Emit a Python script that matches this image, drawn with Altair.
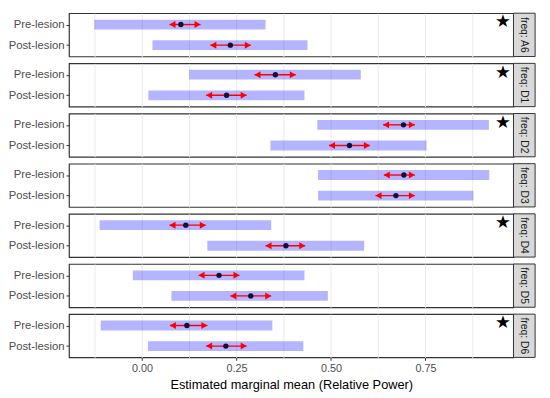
import altair as alt
import pandas as pd

freqs = ["A6", "D1", "D2", "D3", "D4", "D5", "D6"]
conds = ["Pre-lesion", "Post-lesion"]

est_pre = [0.103, 0.353, 0.692, 0.693, 0.116, 0.204, 0.119]
est_post = [0.234, 0.224, 0.549, 0.672, 0.381, 0.288, 0.222]

ci_lo_pre = [-0.126, 0.125, 0.464, 0.466, -0.112, -0.024, -0.109]
ci_hi_pre = [0.327, 0.579, 0.918, 0.919, 0.342, 0.430, 0.345]
ci_lo_post = [0.028, 0.017, 0.340, 0.466, 0.173, 0.078, 0.016]
ci_hi_post = [0.438, 0.430, 0.753, 0.877, 0.588, 0.492, 0.427]

arr_lo_pre = [0.073, 0.298, 0.638, 0.640, 0.073, 0.150, 0.074]
arr_hi_pre = [0.155, 0.407, 0.722, 0.722, 0.169, 0.258, 0.173]
arr_lo_post = [0.181, 0.170, 0.495, 0.618, 0.327, 0.234, 0.170]
arr_hi_post = [0.288, 0.277, 0.603, 0.722, 0.432, 0.342, 0.277]

starred = ["A6", "D1", "D2", "D4", "D6"]
star_x = 0.955

rows = []
for i, f in enumerate(freqs):
    rows.append(dict(freq=f, cond="Pre-lesion", est=est_pre[i], lo=ci_lo_pre[i], hi=ci_hi_pre[i],
                     alo=arr_lo_pre[i], ahi=arr_hi_pre[i], star=f in starred, sx=star_x))
    rows.append(dict(freq=f, cond="Post-lesion", est=est_post[i], lo=ci_lo_post[i], hi=ci_hi_post[i],
                     alo=arr_lo_post[i], ahi=arr_hi_post[i], star=f in starred, sx=star_x))
df = pd.DataFrame(rows)

W, H = 452, 44
FONT = "Liberation Sans"
major_test = "abs(datum.value*4 - round(datum.value*4)) < 0.001"
grid_vals = [-0.125, 0.0, 0.125, 0.25, 0.375, 0.5, 0.625, 0.75, 0.875]

xscale = alt.Scale(domain=[-0.193, 0.983], nice=False, zero=False)
yscale = alt.Scale(type="point", padding=0.55)

x_axis = alt.Axis(
    values=grid_vals,
    labelExpr=f"{major_test} ? format(datum.value, '.2f') : ''",
    tickOpacity={"condition": {"test": major_test, "value": 1}, "value": 0},
    title="Estimated marginal mean (Relative Power)",
)
y_axis = alt.Axis(title=None)

base = alt.Chart().encode(
    y=alt.Y("cond:N", sort=conds, scale=yscale, axis=y_axis)
)

bars = base.mark_bar(size=10, color="#0000FF", opacity=0.29).encode(
    x=alt.X("lo:Q", scale=xscale, axis=x_axis), x2="hi:Q"
)
arrow_line = base.mark_rule(color="#FF0000", strokeWidth=1.4).encode(
    x="alo:Q", x2="ahi:Q"
)
arrow_left = base.mark_point(shape="triangle-left", filled=True, color="#FF0000",
                             size=50, opacity=1, xOffset=3).encode(x="alo:Q")
arrow_right = base.mark_point(shape="triangle-right", filled=True, color="#FF0000",
                              size=50, opacity=1, xOffset=-3).encode(x="ahi:Q")
points = base.mark_circle(color="#10103C", size=30, opacity=1).encode(x="est:Q")

stars = base.mark_text(text="★", fontSize=18, color="black", dy=-2, font="DejaVu Sans").encode(
    x="sx:Q"
).transform_filter("datum.star && datum.cond == 'Pre-lesion'")

strip_rect = alt.Chart().mark_rect(fill="#D9D9D9", stroke="#333333", strokeWidth=1).encode(
    x=alt.value(W), x2=alt.value(W + 22), y=alt.value(0), y2=alt.value(H)
).transform_filter("datum.cond == 'Pre-lesion'")

strip_text = alt.Chart().mark_text(angle=90, fontSize=10.5, color="#1A1A1A", font=FONT).encode(
    x=alt.value(W + 11), y=alt.value(H / 2), text="label:N"
).transform_filter("datum.cond == 'Pre-lesion'").transform_calculate(label="'freq: ' + datum.freq")

layered = alt.layer(bars, arrow_line, arrow_left, arrow_right, points, stars, strip_rect, strip_text,
                    data=df).properties(width=W, height=H)

chart = layered.facet(
    row=alt.Row("freq:N", sort=freqs, header=alt.Header(labels=False, title=None)),
    spacing=7,
    bounds="flush",
).properties(
    padding={"left": 0, "top": 0, "right": 5, "bottom": 5}
).configure_view(
    stroke="#333333", strokeWidth=1.2
).configure_axis(
    gridColor="#EBEBEB", gridWidth=1, domain=False,
    tickColor="#333333", tickSize=3, labelColor="#4D4D4D", labelFontSize=11.5,
    labelFont=FONT, titleFont=FONT, titleFontSize=13, titleFontWeight="normal",
    titleColor="black", labelPadding=2,
).configure_axisX(titlePadding=6, labelFontSize=11)

chart.save("out.html", embed_options={"renderer": "svg", "actions": False})
